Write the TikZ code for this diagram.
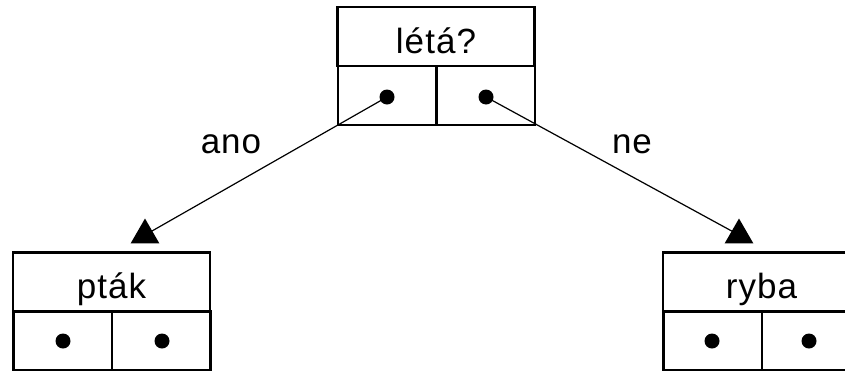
\documentclass[tikz,border=0pt]{standalone}
\usepackage{fontspec}
\setmainfont{Liberation Sans}[LetterSpace=3]
\usetikzlibrary{shapes.geometric}

\tikzset{
  header/.style={draw, line width=2.8pt, minimum width=197pt, minimum height=59pt,
    inner sep=0pt, text height=33pt, text depth=0pt,
    font=\fontsize{35}{42}\selectfont},
  cell/.style={draw, line width=2.8pt, minimum width=98.5pt, minimum height=59pt, inner sep=0pt},
  dot/.style={circle, fill=black, minimum size=15pt, inner sep=0pt},
  tip/.style={regular polygon, regular polygon sides=3, fill=black,
    minimum size=33pt, inner sep=0pt},
  edge/.style={line width=1.2pt},
  answer/.style={anchor=base, inner sep=0pt, font=\fontsize{35}{42}\selectfont}
}

\begin{document}
\begin{tikzpicture}[x=1pt, y=-1pt]
  \useasboundingbox (0,0) rectangle (845,370);
  \clip (0,0) rectangle (845,370);

  % root question
  \node[header] (q) at (436,36.5) {létá?};
  \node[cell] (qL) at (387.25,95.5) {};
  \node[cell] (qR) at (485.75,95.5) {};
  \node[dot] (dqL) at (387,97) {};
  \node[dot] (dqR) at (486,97) {};

  % left leaf
  \node[header] (b) at (111.5,282) {pták};
  \node[cell] (bL) at (62.75,340.5) {};
  \node[cell] (bR) at (161.25,340.5) {};
  \node[dot] (dbL) at (63,341) {};
  \node[dot] (dbR) at (162,341) {};

  % right leaf
  \node[header] (f) at (761.5,282) {ryba};
  \node[cell] (fL) at (712.75,340.5) {};
  \node[cell] (fR) at (811.25,340.5) {};
  \node[dot] (dfL) at (712,341) {};
  \node[dot] (dfR) at (809,341) {};

  % branches
  \coordinate (tL) at (145,235);
  \coordinate (tR) at (739,235);
  \draw[edge] (dqL.center) -- (tL);
  \draw[edge] (dqR.center) -- (tR);
  \node[tip] (aL) at (tL) {};
  \node[tip] (aR) at (tR) {};

  \node[answer] (yes) at (231,153) {ano};
  \node[answer] (no) at (632,153) {ne};
\end{tikzpicture}
\end{document}
